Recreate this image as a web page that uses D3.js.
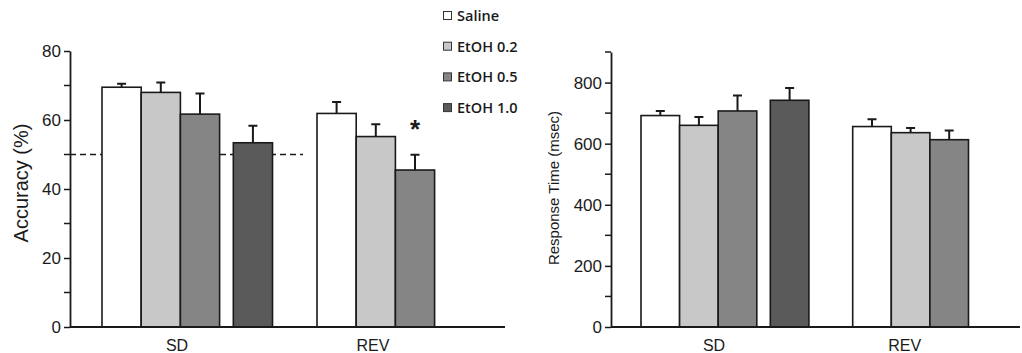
<!DOCTYPE html>
<html>
  <head>
    <script src="https://d3js.org/d3.v7.min.js"></script>
    <style>
      body { margin: 0; background: #fff; }
      svg { display: block; }
      .lib { font-family: "Liberation Sans", Arial, Helvetica, sans-serif; }
      .leg { font-family: "Open Sans", sans-serif; font-weight: 600; }
    </style>
  </head>
  <body>
    <div id="chart"></div>
    <script>
      // data
      const groups = ["SD", "REV"];
      const series = ["Saline", "EtOH 0.2", "EtOH 0.5", "EtOH 1.0"];
      const colors = ["#ffffff", "#c8c8c8", "#858585", "#5a5a5a"];

      const accMean = {
        SD: [69.5, 68.0, 61.7, 53.4],
        REV: [61.9, 55.2, 45.5, null]
      };
      const accErr = {
        SD: [1.0, 2.9, 6.0, 4.9],
        REV: [3.3, 3.6, 4.4, null]
      };
      const rtMean = {
        SD: [692, 660, 707, 742],
        REV: [656, 636, 613, null]
      };
      const rtErr = {
        SD: [15, 27, 51, 40],
        REV: [24, 15, 30, null]
      };
      const accTicks = [0, 20, 40, 60, 80];
      const rtTicks = [0, 200, 400, 600, 800];
      const chance = 50;

      const W = 1022, H = 353;
      const svg = d3.select("#chart").append("svg")
        .attr("width", W).attr("height", H);

      const ink = "#1a1a1a";

      // slot of each series inside a group (1.0 sits after a small gap)
      const slot = d3.scaleOrdinal().domain(series).range([0, 1, 2, 3.35]);

      function panel(opt) {
        const g = svg.append("g");
        const y = d3.scaleLinear().domain(opt.domain).range([327, opt.top]);
        const x0 = d3.scaleOrdinal().domain(groups).range(opt.groupStart);
        const bw = opt.barW;

        // minor ticks
        const minor = d3.range(opt.minorStep, opt.domain[1] + 1, opt.minorStep * 2);
        g.append("g")
          .attr("transform", `translate(${opt.axisX},0)`)
          .selectAll("line").data(minor).join("line")
          .attr("x1", -6).attr("x2", 0)
          .attr("y1", d => y(d)).attr("y2", d => y(d))
          .attr("stroke", ink).attr("stroke-width", 1.5);

        const ax = g.append("g")
          .attr("transform", `translate(${opt.axisX},0)`)
          .call(d3.axisLeft(y).tickValues(opt.ticks).tickSize(6).tickSizeOuter(0).tickPadding(3));
        ax.attr("font-family", null).attr("font-size", null);
        ax.select(".domain").attr("stroke", ink).attr("stroke-width", 1.8);
        ax.selectAll(".tick line").attr("stroke", ink).attr("stroke-width", 1.5);
        ax.selectAll("text").attr("class", "lib")
          .style("font-size", opt.tickFont + "px").attr("fill", ink);

        // chance line behind bars
        if (opt.chance != null) {
          g.append("line")
            .attr("x1", opt.axisX).attr("x2", opt.chanceEnd)
            .attr("y1", y(opt.chance)).attr("y2", y(opt.chance))
            .attr("stroke", ink).attr("stroke-width", 1.5)
            .attr("stroke-dasharray", "6,4");
        }

        // bars
        const rows = [];
        groups.forEach(gr => series.forEach((s, i) => {
          if (opt.mean[gr][i] != null) rows.push({ gr, s, i, v: opt.mean[gr][i], e: opt.err[gr][i] });
        }));
        const bx = d => x0(d.gr) + slot(d.s) * bw;

        g.selectAll(".eb").data(rows).join("path")
          .attr("d", d => {
            const cx = bx(d) + bw / 2;
            return `M${cx},${y(d.v)}V${y(d.v + d.e)}M${cx - 4.5},${y(d.v + d.e)}H${cx + 4.5}`;
          })
          .attr("stroke", ink).attr("stroke-width", 2).attr("fill", "none");

        g.selectAll(".bar").data(rows).join("rect")
          .attr("x", bx).attr("width", bw)
          .attr("y", d => y(d.v)).attr("height", d => y(0) - y(d.v))
          .attr("fill", d => colors[d.i])
          .attr("stroke", ink).attr("stroke-width", 1.6);

        // baseline
        g.append("line")
          .attr("x1", opt.axisX).attr("x2", opt.baseEnd)
          .attr("y1", y(0)).attr("y2", y(0))
          .attr("stroke", ink).attr("stroke-width", 1.8);

        // group labels
        g.selectAll(".gl").data(groups).join("text")
          .attr("class", "lib")
          .attr("x", (d, i) => x0(d) + opt.labelOff[i])
          .attr("y", 351)
          .attr("text-anchor", "middle")
          .style("font-size", "16px").attr("fill", ink)
          .text(d => d);

        // y title
        g.append("text")
          .attr("class", "lib")
          .attr("transform", `translate(${opt.titleX},${opt.titleY}) rotate(-90)`)
          .attr("text-anchor", "middle")
          .style("font-size", opt.titleFont + "px").attr("fill", ink)
          .text(opt.title);

        return { y, x0, bw };
      }

      const left = panel({
        domain: [0, 80], top: 51, ticks: accTicks, minorStep: 10,
        axisX: 70, baseEnd: 505, groupStart: [102, 317], barW: 39.2,
        mean: accMean, err: accErr, chance: chance, chanceEnd: 303,
        labelOff: [75, 56], tickFont: 17,
        title: "Accuracy (%)", titleX: 28, titleY: 183, titleFont: 20
      });

      panel({
        domain: [0, 900], top: 52, ticks: rtTicks, minorStep: 100,
        axisX: 611, baseEnd: 1020, groupStart: [641, 852.7], barW: 38.6,
        mean: rtMean, err: rtErr, chance: null,
        labelOff: [73, 52], tickFont: 17,
        title: "Response Time (msec)", titleX: 559, titleY: 188, titleFont: 15
      });

      // significance star over REV EtOH 0.5
      svg.append("text")
        .attr("class", "lib")
        .attr("x", left.x0("REV") + slot("EtOH 0.5") * left.bw + left.bw / 2)
        .attr("y", 138)
        .attr("text-anchor", "middle")
        .style("font-size", "26px").style("font-weight", "bold")
        .attr("fill", ink)
        .text("*");

      // legend
      const leg = svg.append("g").attr("transform", "translate(443,0)");
      const li = leg.selectAll("g").data(series).join("g")
        .attr("transform", (d, i) => `translate(0,${16 + i * 30.7})`);
      li.append("rect")
        .attr("x", 0.5).attr("y", -4.5).attr("width", 8).attr("height", 8)
        .attr("fill", (d, i) => colors[i]).attr("stroke", "#333").attr("stroke-width", 1);
      li.append("text")
        .attr("class", "leg")
        .attr("x", 14).attr("y", 5)
        .style("font-size", "14.5px")
        .attr("fill", ink)
        .text(d => d);
    </script>
  </body>
</html>
